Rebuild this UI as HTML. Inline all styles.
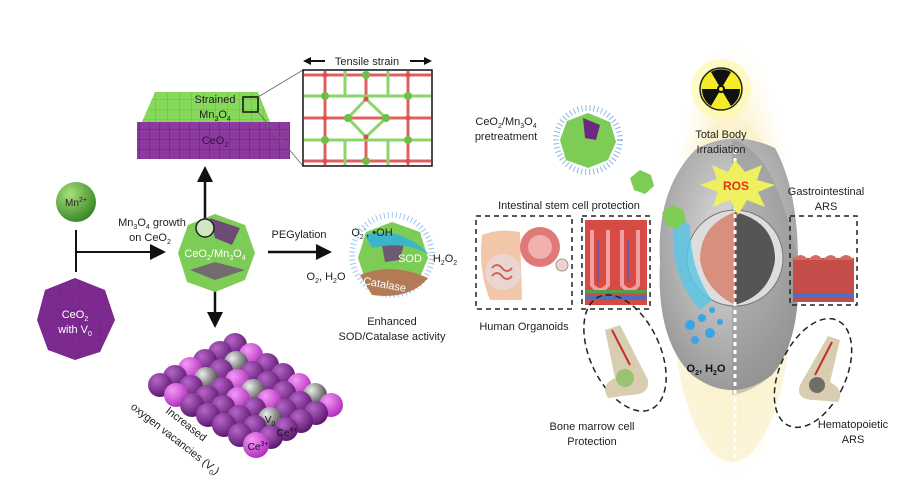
<!DOCTYPE html>
<html><head><meta charset="utf-8"><style>
html,body{margin:0;padding:0;background:#fff;}
svg{display:block;font-family:"Liberation Sans",sans-serif;}
</style></head><body>
<svg width="914" height="493" viewBox="0 0 914 493" xmlns="http://www.w3.org/2000/svg">
<defs>
<radialGradient id="gP" cx="35%" cy="30%" r="70%"><stop offset="0" stop-color="#b766c8"/><stop offset="1" stop-color="#5e1a72"/></radialGradient>
<radialGradient id="gM" cx="35%" cy="30%" r="70%"><stop offset="0" stop-color="#f39af5"/><stop offset="1" stop-color="#b52fc0"/></radialGradient>
<radialGradient id="gG" cx="35%" cy="30%" r="70%"><stop offset="0" stop-color="#eee"/><stop offset="1" stop-color="#444"/></radialGradient>
<radialGradient id="gMn" cx="35%" cy="30%" r="70%"><stop offset="0" stop-color="#a8e07a"/><stop offset="1" stop-color="#3d8a2a"/></radialGradient>
<radialGradient id="gY" cx="50%" cy="50%" r="50%"><stop offset="0" stop-color="#fff6b0"/><stop offset="0.6" stop-color="#fdf2c8"/><stop offset="1" stop-color="#fdf6e0" stop-opacity="0"/></radialGradient>
<radialGradient id="gBody" cx="50%" cy="40%" r="60%"><stop offset="0" stop-color="#e0e0e0"/><stop offset="1" stop-color="#9a9a9a"/></radialGradient>
<pattern id="grid" width="10" height="10" patternUnits="userSpaceOnUse"><path d="M10 0V10H0" fill="none" stroke="#5a1c6c" stroke-width="0.8"/></pattern>
<pattern id="gridg" width="12" height="10" patternUnits="userSpaceOnUse"><path d="M12 0V10H0" fill="none" stroke="#5fa53a" stroke-width="0.6"/></pattern>
</defs>

<!-- Strained film -->
<polygon points="155,92 258,92 270,122 142,122" fill="#86d95a"/>
<polygon points="155,92 258,92 270,122 142,122" fill="url(#gridg)"/>
<rect x="137" y="122" width="153" height="37" fill="#8d3aa0"/>
<rect x="137" y="122" width="153" height="37" fill="url(#grid)"/>
<text x="215" y="103" font-size="11" text-anchor="middle" fill="#222">Strained</text>
<text x="215" y="118" font-size="11" text-anchor="middle" fill="#222">Mn<tspan font-size="7" dy="3">3</tspan><tspan dy="-3">O</tspan><tspan font-size="7" dy="3">4</tspan></text>
<text x="215" y="144" font-size="11" text-anchor="middle" fill="#3a0f45">CeO<tspan font-size="7" dy="3">2</tspan></text>
<rect x="243" y="97" width="15" height="15" fill="none" stroke="#111" stroke-width="1.5"/>
<line x1="258" y1="97" x2="303" y2="70" stroke="#666" stroke-width="0.8"/>
<line x1="258" y1="112" x2="303" y2="166" stroke="#666" stroke-width="0.8"/>

<!-- Lattice box -->
<text x="367" y="65" font-size="11" text-anchor="middle" fill="#222">Tensile strain</text>
<line x1="307" y1="61" x2="325" y2="61" stroke="#111" stroke-width="2"/><polygon points="303,61 311,57 311,65" fill="#111"/>
<line x1="410" y1="61" x2="428" y2="61" stroke="#111" stroke-width="2"/><polygon points="432,61 424,57 424,65" fill="#111"/>
<rect x="303" y="70" width="129" height="96" fill="#fff" stroke="#111" stroke-width="1.5"/>
<g stroke-width="3">
<g stroke="#e06060">
<line x1="304" y1="75" x2="431" y2="75"/><line x1="304" y1="118" x2="431" y2="118"/><line x1="304" y1="161" x2="431" y2="161"/>
<line x1="325" y1="71" x2="325" y2="165"/><line x1="408" y1="71" x2="408" y2="165"/>
<line x1="366" y1="75" x2="366" y2="96"/><line x1="366" y1="140" x2="366" y2="161"/>
</g>
<g stroke="#8ed46a">
<line x1="304" y1="96" x2="431" y2="96"/><line x1="304" y1="140" x2="431" y2="140"/>
<line x1="345" y1="71" x2="345" y2="96"/><line x1="345" y1="140" x2="345" y2="165"/>
<line x1="388" y1="71" x2="388" y2="96"/><line x1="388" y1="140" x2="388" y2="165"/>
<polyline points="366,99 348,118 366,137 386,118 366,99" fill="none"/>
</g>
</g>
<g fill="#6cc04a">
<circle cx="366" cy="75" r="4"/><circle cx="325" cy="96" r="4"/><circle cx="408" cy="96" r="4"/>
<circle cx="348" cy="118" r="4"/><circle cx="386" cy="118" r="4"/><circle cx="325" cy="140" r="4"/><circle cx="408" cy="140" r="4"/><circle cx="366" cy="161" r="4"/>
</g>
<g fill="#d85050"><circle cx="325" cy="75" r="2.5"/><circle cx="408" cy="75" r="2.5"/><circle cx="366" cy="99" r="2.5"/><circle cx="366" cy="137" r="2.5"/><circle cx="325" cy="118" r="2.5"/><circle cx="408" cy="118" r="2.5"/><circle cx="325" cy="161" r="2.5"/><circle cx="408" cy="161" r="2.5"/></g>

<!-- Arrows -->
<line x1="205" y1="222" x2="205" y2="180" stroke="#111" stroke-width="2.5"/><polygon points="205,166 197,182 213,182" fill="#111"/>
<line x1="215" y1="275" x2="215" y2="313" stroke="#111" stroke-width="2.5"/><polygon points="215,328 207,312 223,312" fill="#111"/>
<line x1="268" y1="252" x2="318" y2="252" stroke="#111" stroke-width="2.5"/><polygon points="332,252 316,244 316,260" fill="#111"/>
<line x1="76" y1="230" x2="76" y2="272" stroke="#111" stroke-width="2"/>
<line x1="76" y1="252" x2="152" y2="252" stroke="#111" stroke-width="2"/><polygon points="166,252 150,244 150,260" fill="#111"/>
<text x="152" y="226" font-size="11" text-anchor="middle" fill="#222">Mn<tspan font-size="7" dy="3">3</tspan><tspan dy="-3">O</tspan><tspan font-size="7" dy="3">4</tspan><tspan dy="-3"> growth</tspan></text>
<text x="150" y="241" font-size="11" text-anchor="middle" fill="#222">on CeO<tspan font-size="7" dy="3">2</tspan></text>
<text x="299" y="238" font-size="11" text-anchor="middle" fill="#222">PEGylation</text>

<!-- Mn2+ sphere -->
<circle cx="76" cy="202" r="20" fill="url(#gMn)"/>
<text x="76" y="206" font-size="10" text-anchor="middle" fill="#222">Mn<tspan font-size="7" dy="-4">2+</tspan></text>
<!-- CeO2 polyhedron -->
<polygon points="75,278 105,290 115,320 100,352 75,360 48,350 37,320 45,290" fill="#7c2a90"/>
<polygon points="75,278 105,290 115,320 100,352 75,360 48,350 37,320 45,290" fill="url(#grid)" opacity="0.5"/>
<text x="75" y="318" font-size="11" text-anchor="middle" fill="#fff">CeO<tspan font-size="7" dy="3">2</tspan></text>
<text x="75" y="333" font-size="11" text-anchor="middle" fill="#fff">with V<tspan font-size="7" dy="3">0</tspan></text>

<!-- CeO2/Mn3O4 particle -->
<polygon points="215,214 245,225 255,253 245,280 215,292 187,282 178,253 188,225" fill="#7dcc55"/>
<polygon points="210,218 240,228 232,245 215,238" fill="#6a2a80" opacity="0.8"/>
<polygon points="190,270 215,262 245,270 215,280" fill="#6a2a80" opacity="0.6"/>
<circle cx="205" cy="228" r="9" fill="#cfe6c2" stroke="#222" stroke-width="1.5"/>
<text x="215" y="257" font-size="11" text-anchor="middle" fill="#fff">CeO<tspan font-size="7" dy="3">2</tspan><tspan dy="-3">/Mn</tspan><tspan font-size="7" dy="3">3</tspan><tspan dy="-3">O</tspan><tspan font-size="7" dy="3">4</tspan></text>

<!-- PEG particle -->
<circle cx="392" cy="255" r="40" fill="none" stroke="#9cc6ee" stroke-width="6" stroke-dasharray="1 3"/>
<polygon points="392,222 420,232 428,258 418,282 392,292 366,282 358,258 366,232" fill="#7dcc55"/>
<polygon points="380,235 405,240 400,260 385,262" fill="#6a2a80" opacity="0.7"/>
<path d="M360,275 Q392,262 428,278 Q410,300 372,295 Z" fill="#b27a55"/>
<path d="M365,235 Q400,225 430,255 Q405,240 372,248 Z" fill="#3ab6cc"/>
<text x="372" y="236" font-size="11" text-anchor="middle" fill="#222">O<tspan font-size="7" dy="3">2</tspan><tspan font-size="7" dy="-7">-</tspan><tspan dy="4">, •OH</tspan></text>
<text x="410" y="262" font-size="11" text-anchor="middle" fill="#fff">SOD</text>
<text x="445" y="262" font-size="11" text-anchor="middle" fill="#222">H<tspan font-size="7" dy="3">2</tspan><tspan dy="-3">O</tspan><tspan font-size="7" dy="3">2</tspan></text>
<text x="326" y="280" font-size="11" text-anchor="middle" fill="#222">O<tspan font-size="7" dy="3">2</tspan><tspan dy="-3">, H</tspan><tspan font-size="7" dy="3">2</tspan><tspan dy="-3">O</tspan></text>
<text x="384" y="288" font-size="11" text-anchor="middle" fill="#fff" transform="rotate(10 384 288)">Catalase</text>
<text x="392" y="325" font-size="11" text-anchor="middle" fill="#222">Enhanced</text>
<text x="392" y="340" font-size="11" text-anchor="middle" fill="#222">SOD/Catalase activity</text>

<!-- Sphere lattice -->
<g>
<circle cx="235" cy="345" r="12" fill="url(#gP)"/><circle cx="220" cy="353" r="12" fill="url(#gP)"/><circle cx="205" cy="361" r="12" fill="url(#gP)"/><circle cx="190" cy="369" r="12" fill="url(#gM)"/><circle cx="175" cy="377" r="12" fill="url(#gP)"/><circle cx="160" cy="385" r="12" fill="url(#gP)"/>
<circle cx="251" cy="355" r="12" fill="url(#gM)"/><circle cx="236" cy="363" r="12" fill="url(#gG)"/><circle cx="221" cy="371" r="12" fill="url(#gP)"/><circle cx="206" cy="379" r="12" fill="url(#gG)"/><circle cx="191" cy="387" r="12" fill="url(#gP)"/><circle cx="176" cy="395" r="12" fill="url(#gM)"/>
<circle cx="267" cy="365" r="12" fill="url(#gP)"/><circle cx="252" cy="373" r="12" fill="url(#gP)"/><circle cx="237" cy="381" r="12" fill="url(#gM)"/><circle cx="222" cy="389" r="12" fill="url(#gP)"/><circle cx="207" cy="397" r="12" fill="url(#gP)"/><circle cx="192" cy="405" r="12" fill="url(#gP)"/>
<circle cx="283" cy="375" r="12" fill="url(#gP)"/><circle cx="268" cy="383" r="12" fill="url(#gP)"/><circle cx="253" cy="391" r="12" fill="url(#gG)"/><circle cx="238" cy="399" r="12" fill="url(#gM)"/><circle cx="223" cy="407" r="12" fill="url(#gP)"/><circle cx="208" cy="415" r="12" fill="url(#gP)"/>
<circle cx="299" cy="385" r="12" fill="url(#gM)"/><circle cx="284" cy="393" r="12" fill="url(#gP)"/><circle cx="269" cy="401" r="12" fill="url(#gM)"/><circle cx="254" cy="409" r="12" fill="url(#gP)"/><circle cx="239" cy="417" r="12" fill="url(#gP)"/><circle cx="224" cy="425" r="12" fill="url(#gP)"/>
<circle cx="315" cy="395" r="12" fill="url(#gG)"/><circle cx="300" cy="403" r="12" fill="url(#gP)"/><circle cx="285" cy="411" r="12" fill="url(#gP)"/><circle cx="270" cy="419" r="12" fill="url(#gG)"/><circle cx="255" cy="427" r="12" fill="url(#gP)"/><circle cx="240" cy="435" r="12" fill="url(#gP)"/>
<circle cx="331" cy="405" r="12" fill="url(#gM)"/><circle cx="316" cy="413" r="12" fill="url(#gP)"/><circle cx="301" cy="421" r="12" fill="url(#gP)"/><circle cx="286" cy="429" r="12" fill="url(#gP)"/><circle cx="271" cy="437" r="12" fill="url(#gP)"/><circle cx="256" cy="445" r="13" fill="url(#gM)"/>
</g>
<text x="270" y="423" font-size="10" text-anchor="middle" fill="#111">V<tspan font-size="7" dy="3">0</tspan></text>
<text x="287" y="436" font-size="10" text-anchor="middle" fill="#111">Ce<tspan font-size="7" dy="-4">4+</tspan></text>
<text x="258" y="450" font-size="10" text-anchor="middle" fill="#111">Ce<tspan font-size="7" dy="-4">3+</tspan></text>
<text font-size="11" fill="#222" transform="translate(165,412) rotate(38)">Increased</text>
<text font-size="11" fill="#222" transform="translate(130,408) rotate(38)">oxygen vacancies (V<tspan font-size="7" dy="3">0</tspan><tspan dy="-3">)</tspan></text>

<!-- Right panel -->
<ellipse cx="732" cy="260" rx="64" ry="218" fill="url(#gY)"/>
<ellipse cx="732" cy="290" rx="60" ry="172" fill="#fbf1cf" opacity="0.8"/>
<circle cx="721" cy="89" r="30" fill="#fff8a0" opacity="0.6"/>
<!-- mouse body -->
<path d="M695,150 Q732,128 775,148 Q798,190 798,262 Q802,340 772,375 Q732,405 692,375 Q656,340 660,262 Q656,190 695,150 Z" fill="url(#gBody)"/>
<path d="M732,140 Q775,148 798,262 Q802,340 772,375 Q752,392 732,395 Z" fill="#8f8f8f" opacity="0.45"/>
<circle cx="735" cy="258" r="48" fill="#ddd" stroke="#777" stroke-width="1"/>
<path d="M735,212 Q700,225 700,260 Q705,290 735,305 Z" fill="#d98f7e"/>
<path d="M735,212 Q775,222 775,260 Q770,295 735,305 Z" fill="#555"/>
<line x1="735" y1="150" x2="735" y2="465" stroke="#fff" stroke-width="3" stroke-dasharray="4 4"/>
<path d="M675,215 Q665,270 700,310 L712,300 Q690,270 690,225 Z" fill="#58c7e6" opacity="0.8"/>
<g fill="#3aa5e6"><circle cx="690" cy="325" r="5"/><circle cx="702" cy="318" r="4"/><circle cx="710" cy="333" r="5"/><circle cx="695" cy="340" r="4"/><circle cx="712" cy="310" r="3"/><circle cx="720" cy="322" r="3"/></g>
<text x="706" y="372" font-size="11" font-weight="bold" text-anchor="middle" fill="#111">O<tspan font-size="7" dy="3">2</tspan><tspan dy="-3">, H</tspan><tspan font-size="7" dy="3">2</tspan><tspan dy="-3">O</tspan></text>
<!-- ROS star -->
<polygon points="735,160 745,172 762,165 757,180 775,185 758,192 765,207 747,200 738,215 730,200 713,207 718,192 700,185 717,179 712,165 728,172" fill="#eef060"/>
<text x="736" y="190" font-size="12" font-weight="bold" text-anchor="middle" fill="#e8321e">ROS</text>
<!-- radiation -->
<circle cx="721" cy="89" r="21" fill="#f4ec28" stroke="#222" stroke-width="1.5"/>
<path d="M721,89 L711,72 A20,20 0 0 1 731,72 Z M721,89 L740,89 A20,20 0 0 1 731,106 Z M721,89 L711,106 A20,20 0 0 1 702,89 Z" fill="#111"/>
<circle cx="721" cy="89" r="4" fill="#111"/><circle cx="721" cy="89" r="2" fill="#f4ec28"/>
<text x="721" y="138" font-size="11" text-anchor="middle" fill="#222">Total Body</text>
<text x="721" y="153" font-size="11" text-anchor="middle" fill="#222">Irradiation</text>

<!-- nanoparticles -->
<circle cx="588" cy="140" r="32" fill="none" stroke="#8ab8e6" stroke-width="6" stroke-dasharray="1 3"/>
<polygon points="588,113 610,122 616,142 608,160 588,168 566,160 560,140 567,121" fill="#7dcc55"/>
<polygon points="583,118 600,125 596,140 585,138" fill="#6a2a80"/>
<polygon points="640,170 651,175 654,186 645,194 634,190 630,178" fill="#7dcc55"/>
<polygon points="672,205 683,210 686,221 677,229 666,225 662,213" fill="#7dcc55"/>
<text x="506" y="125" font-size="11" text-anchor="middle" fill="#222">CeO<tspan font-size="7" dy="3">2</tspan><tspan dy="-3">/Mn</tspan><tspan font-size="7" dy="3">3</tspan><tspan dy="-3">O</tspan><tspan font-size="7" dy="3">4</tspan></text>
<text x="506" y="140" font-size="11" text-anchor="middle" fill="#222">pretreatment</text>
<text x="569" y="209" font-size="11" text-anchor="middle" fill="#222">Intestinal  stem cell protection</text>
<text x="826" y="195" font-size="11" text-anchor="middle" fill="#222">Gastrointestinal</text>
<text x="826" y="210" font-size="11" text-anchor="middle" fill="#222">ARS</text>

<!-- dashed boxes -->
<rect x="476" y="216" width="96" height="93" fill="none" stroke="#222" stroke-width="1.5" stroke-dasharray="5 4"/>
<rect x="582" y="216" width="68" height="93" fill="none" stroke="#222" stroke-width="1.5" stroke-dasharray="5 4"/>
<rect x="790" y="216" width="67" height="89" fill="none" stroke="#222" stroke-width="1.5" stroke-dasharray="5 4"/>
<!-- organoids content -->
<path d="M482,235 Q500,228 520,232 L522,300 L490,300 Q478,270 482,235 Z" fill="#f2c6a8"/>
<circle cx="503" cy="272" r="18" fill="#e8d7d4" opacity="0.9"/>
<path d="M492,268 q5,-6 10,0 q5,6 10,0 M492,276 q5,-6 10,0 q5,6 10,0" stroke="#d06060" fill="none" stroke-width="2"/>
<circle cx="540" cy="247" r="20" fill="#e07a78"/><circle cx="540" cy="247" r="12" fill="#f2b0ae"/>
<circle cx="562" cy="265" r="6" fill="#f2d0d0" stroke="#999"/>
<rect x="585" y="220" width="62" height="85" fill="#d84a44"/>
<path d="M592,230 V285 Q600,295 608,285 V230 M622,230 V285 Q630,295 638,285 V230" stroke="#f0a0a0" stroke-width="4" fill="none"/>
<path d="M598,240 V282 M628,240 V282" stroke="#5060c0" stroke-width="1.5"/>
<rect x="585" y="295" width="62" height="5" fill="#4a70c0"/>
<rect x="585" y="290" width="62" height="3" fill="#50a050"/>
<rect x="793" y="258" width="61" height="44" fill="#c44d4a"/>
<path d="M793,260 q8,-10 15,0 q8,-10 15,0 q8,-10 15,0 q8,-10 16,0" fill="#d86a66"/>
<rect x="793" y="293" width="61" height="5" fill="#4a70c0"/>
<text x="524" y="330" font-size="11" text-anchor="middle" fill="#222">Human Organoids</text>

<!-- bones -->
<ellipse cx="625" cy="353" rx="35" ry="62" transform="rotate(-25 625 353)" fill="none" stroke="#222" stroke-width="1.5" stroke-dasharray="6 4"/>
<ellipse cx="813" cy="373" rx="33" ry="58" transform="rotate(25 813 373)" fill="none" stroke="#222" stroke-width="1.5" stroke-dasharray="6 4"/>
<path d="M605,330 L620,325 L648,380 Q650,395 630,395 L608,398 Q600,385 615,378 Z" fill="#d8cdb0"/>
<line x1="612" y1="330" x2="630" y2="365" stroke="#c03030" stroke-width="2"/>
<circle cx="625" cy="378" r="9" fill="#8ac060" opacity="0.8"/>
<path d="M840,340 L828,336 L800,385 Q795,400 815,400 L838,402 Q845,390 830,382 Z" fill="#d8cdb0"/>
<line x1="832" y1="342" x2="815" y2="375" stroke="#c03030" stroke-width="2"/>
<circle cx="817" cy="385" r="8" fill="#555" opacity="0.8"/>
<text x="592" y="430" font-size="11" text-anchor="middle" fill="#222">Bone marrow cell</text>
<text x="592" y="445" font-size="11" text-anchor="middle" fill="#222">Protection</text>
<text x="853" y="428" font-size="11" text-anchor="middle" fill="#222">Hematopoietic</text>
<text x="853" y="443" font-size="11" text-anchor="middle" fill="#222">ARS</text>
</svg>
</body></html>
